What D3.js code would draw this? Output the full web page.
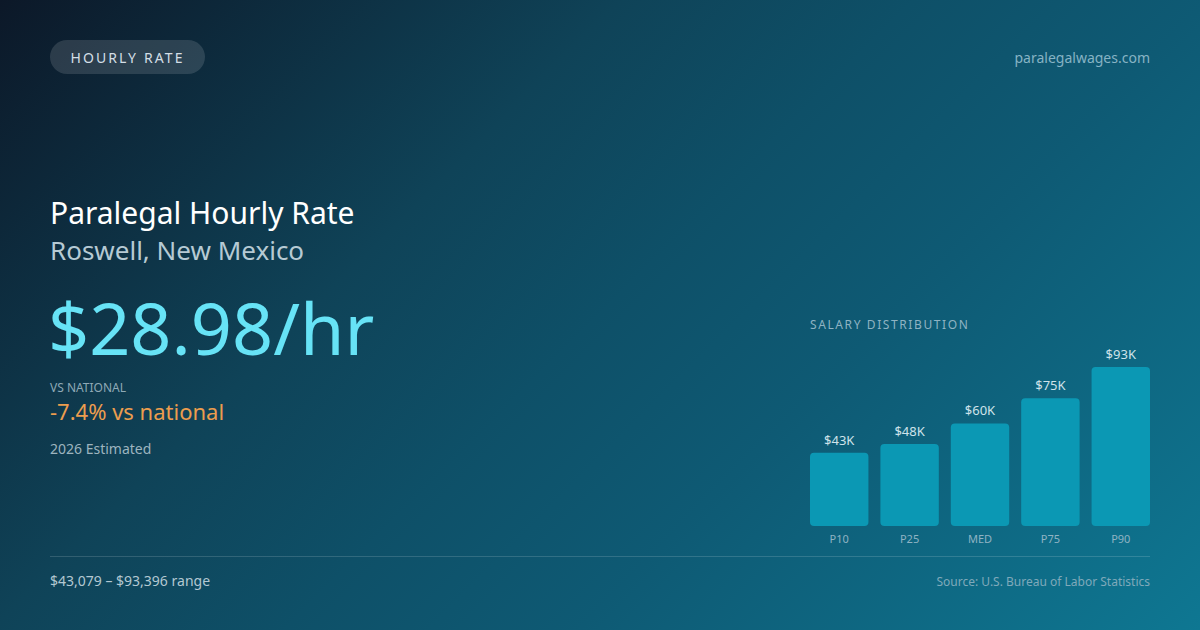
<!DOCTYPE html>
<html><head><meta charset="utf-8">
<script src="https://cdn.jsdelivr.net/npm/d3@7"></script>
<style>html,body{margin:0;padding:0;background:#0f172a;}svg{display:block;font-family:"Noto Sans","Open Sans",sans-serif;}</style>
</head><body>
<svg id="c" width="1200" height="630"></svg>
<script>
const categories = ["P10", "P25", "MED", "P75", "P90"];
const salaries = [43079, 48200, 60278, 75000, 93396];
const valueLabels = ["$43K", "$48K", "$60K", "$75K", "$93K"];

const svg = d3.select("#c");
const defs = svg.append("defs");
const g = defs.append("linearGradient").attr("id","bg").attr("gradientUnits","userSpaceOnUse")
  .attr("x1",0).attr("y1",0).attr("x2",915).attr("y2",915);
[["0%","#0c1828"],["34%","#0f4358"],["50%","#0e5068"],["66%","#0e5a74"],["100%","#0e7792"]]
  .forEach(([o,c]) => g.append("stop").attr("offset",o).attr("stop-color",c));
svg.append("rect").attr("width",1200).attr("height",630).attr("fill","url(#bg)");

// Header pill
svg.append("rect").attr("x",50).attr("y",40).attr("width",155).attr("height",34).attr("rx",17)
  .attr("fill","rgba(255,255,255,0.13)");
svg.append("text").attr("x",127.5).attr("y",62.5).attr("text-anchor","middle")
  .attr("font-size",14).attr("letter-spacing",2.1).attr("fill","#d3dee6").text("HOURLY RATE");
svg.append("text").attr("x",1150).attr("y",63).attr("text-anchor","end")
  .attr("font-size",14).attr("fill","#86b3c4").text("paralegalwages.com");

// Titles
svg.append("text").attr("x",50).attr("y",224).attr("font-size",30).attr("fill","#ffffff").text("Paralegal Hourly Rate");
svg.append("text").attr("x",50).attr("y",260).attr("font-size",26).attr("fill","#b6cad4").text("Roswell, New Mexico");
svg.append("text").attr("x",48).attr("y",355).attr("font-size",72).attr("fill","#67e3f6").text("$28.98/hr");
svg.append("text").attr("x",50).attr("y",392).attr("font-size",12).attr("fill","#8ea9b6").text("VS NATIONAL");
svg.append("text").attr("x",50).attr("y",420).attr("font-size",22).attr("fill","#ec9d4e").text("-7.4% vs national");
svg.append("text").attr("x",50).attr("y",454).attr("font-size",14).attr("fill","#9db4bf").text("2026 Estimated");

// Chart
svg.append("text").attr("x",810).attr("y",329).attr("font-size",12).attr("letter-spacing",1.6)
  .attr("fill","#8fb3c3").text("SALARY DISTRIBUTION");

const x = d3.scaleBand().domain(categories).range([810,1150]).paddingInner(0.17).paddingOuter(0);
const y = d3.scaleLinear().domain([0, d3.max(salaries)]).range([526, 367]);

const bars = svg.append("g");
bars.selectAll("rect").data(categories).join("rect")
  .attr("x", d => x(d)).attr("width", x.bandwidth())
  .attr("y", (d,i) => y(salaries[i])).attr("height", (d,i) => y(0) - y(salaries[i]))
  .attr("rx",4).attr("fill","#0b98b4");
bars.selectAll("text.v").data(categories).join("text").attr("class","v")
  .attr("x", d => x(d) + x.bandwidth()/2).attr("y", (d,i) => y(salaries[i]) - 8)
  .attr("text-anchor","middle").attr("font-size",13).attr("fill","#cfe3ea")
  .text((d,i) => valueLabels[i]);
bars.selectAll("text.c").data(categories).join("text").attr("class","c")
  .attr("x", d => x(d) + x.bandwidth()/2).attr("y", 543)
  .attr("text-anchor","middle").attr("font-size",11).attr("fill","#8fb3c3")
  .text(d => d);

// Footer
svg.append("line").attr("x1",50).attr("x2",1150).attr("y1",556.5).attr("y2",556.5)
  .attr("stroke","rgba(255,255,255,0.15)").attr("stroke-width",1);
svg.append("text").attr("x",50).attr("y",586).attr("font-size",14).attr("fill","#b3c8d2")
  .text("$43,079 – $93,396 range");
svg.append("text").attr("x",1150).attr("y",586).attr("text-anchor","end").attr("font-size",12)
  .attr("fill","#7fa9ba").text("Source: U.S. Bureau of Labor Statistics");
</script>
</body></html>
